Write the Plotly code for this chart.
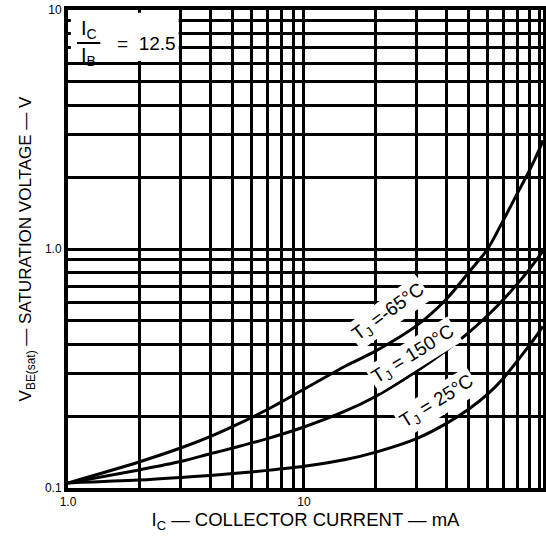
import math
import plotly.graph_objects as go

# ---- data ----
ic_ma = [1, 2, 3, 4, 5, 7, 10, 15, 20, 30, 40, 50, 60, 70, 80, 90, 100, 103]
vbe_m65 = [0.105, 0.1285, 0.147, 0.164, 0.181, 0.213, 0.259, 0.324, 0.373, 0.478, 0.615,
           0.80, 1.0, 1.32, 1.70, 2.12, 2.65, 2.85]
vbe_150 = [0.105, 0.119, 0.129, 0.139, 0.147, 0.161, 0.180, 0.210, 0.241, 0.308, 0.376,
           0.448, 0.527, 0.615, 0.713, 0.82, 0.942, 0.98]
vbe_25 = [0.105, 0.1079, 0.1106, 0.1129, 0.1149, 0.1185, 0.1233, 0.1315, 0.141, 0.161,
          0.186, 0.214, 0.247, 0.288, 0.339, 0.394, 0.455, 0.474]

curve_labels = ["T<sub>J</sub> =-65°C", "T<sub>J</sub> = 150°C", "T<sub>J</sub> = 25°C"]
label_pos_x = [22.7, 29.0, 36.6]
label_pos_y = [0.54, 0.36, 0.229]
label_angles = [-36, -32, -32]

x_tick_vals = [1, 10, 100]
x_tick_text = ["1.0", "10", "100"]
y_tick_vals = [0.1, 1, 10]
y_tick_text = ["0.1", "1.0", "10"]

X_MAX = 103
FONT = "Liberation Sans, Arial, sans-serif"


def minor_vals(lo_exp, hi_exp):
    return [m * 10 ** e for e in range(lo_exp, hi_exp + 1) for m in range(2, 10)]


fig = go.Figure()
for yv in (vbe_m65, vbe_150, vbe_25):
    fig.add_trace(go.Scatter(x=ic_ma, y=yv, mode="lines",
                             line=dict(color="black", width=3, shape="spline", smoothing=0.8),
                             showlegend=False, hoverinfo="skip"))

for txt, lx, ly, ang in zip(curve_labels, label_pos_x, label_pos_y, label_angles):
    fig.add_annotation(x=math.log10(lx), y=math.log10(ly), xref="x", yref="y",
                       xanchor="center", yanchor="middle",
                       text=txt, textangle=ang, showarrow=False,
                       font=dict(family=FONT, size=19, color="black"),
                       bgcolor="white", borderpad=2)

# white box for IC/IB note
xr = math.log10(X_MAX)
fig.add_shape(type="rect", xref="paper", yref="paper",
              x0=0.006, x1=math.log10(3) / xr - 0.004,
              y0=(math.log10(6) + 1) / 2 + 0.004, y1=0.994,
              fillcolor="white", line=dict(width=0), layer="above")
note_font = dict(family=FONT, size=20, color="black")
fig.add_annotation(xref="paper", yref="paper", x=0.044, y=0.960, xanchor="center",
                   yanchor="middle", text="I<sub>C</sub>", showarrow=False, font=note_font)
fig.add_annotation(xref="paper", yref="paper", x=0.044, y=0.903, xanchor="center",
                   yanchor="middle", text="I<sub>B</sub>", showarrow=False, font=note_font)
fig.add_shape(type="line", xref="paper", yref="paper", x0=0.019, x1=0.068,
              y0=0.931, y1=0.931, line=dict(color="black", width=2), layer="above")
fig.add_annotation(xref="paper", yref="paper", x=0.166, y=0.929, xanchor="center",
                   yanchor="middle", text="=  12.5", showarrow=False,
                   font=dict(family=FONT, size=19, color="black"))

axis_common = dict(type="log", showgrid=True, gridcolor="black", gridwidth=2.6,
                   showline=True, linecolor="black", linewidth=4, mirror=True,
                   ticks="", zeroline=False, automargin=False,
                   tickfont=dict(family=FONT, size=12, color="black"))

fig.update_xaxes(**axis_common, range=[0, xr], tickmode="array",
                 tickvals=x_tick_vals, ticktext=x_tick_text,
                 minor=dict(tickvals=minor_vals(0, 2), showgrid=True, gridcolor="black",
                            gridwidth=2.6, ticks=""),
                 title=dict(text="I<sub>C</sub> — COLLECTOR CURRENT — mA",
                            font=dict(family=FONT, size=18.5, color="black"), standoff=0))
fig.update_yaxes(**axis_common, range=[-1, 1], tickmode="array",
                 tickvals=y_tick_vals, ticktext=y_tick_text,
                 minor=dict(tickvals=minor_vals(-1, 1), showgrid=True, gridcolor="black",
                            gridwidth=2.6, ticks=""),
                 title=dict(text="V<sub>BE(sat)</sub> — SATURATION VOLTAGE — V",
                            font=dict(family=FONT, size=17, color="black"), standoff=10))

fig.update_layout(width=546, height=542, margin=dict(l=68, r=3, t=10, b=54),
                  plot_bgcolor="white", paper_bgcolor="white",
                  font=dict(family=FONT, color="black"))

fig.write_html("out.html", config={"displayModeBar": False},
               post_script="document.body.style.margin='0';"
                           "document.body.style.overflow='hidden';")
